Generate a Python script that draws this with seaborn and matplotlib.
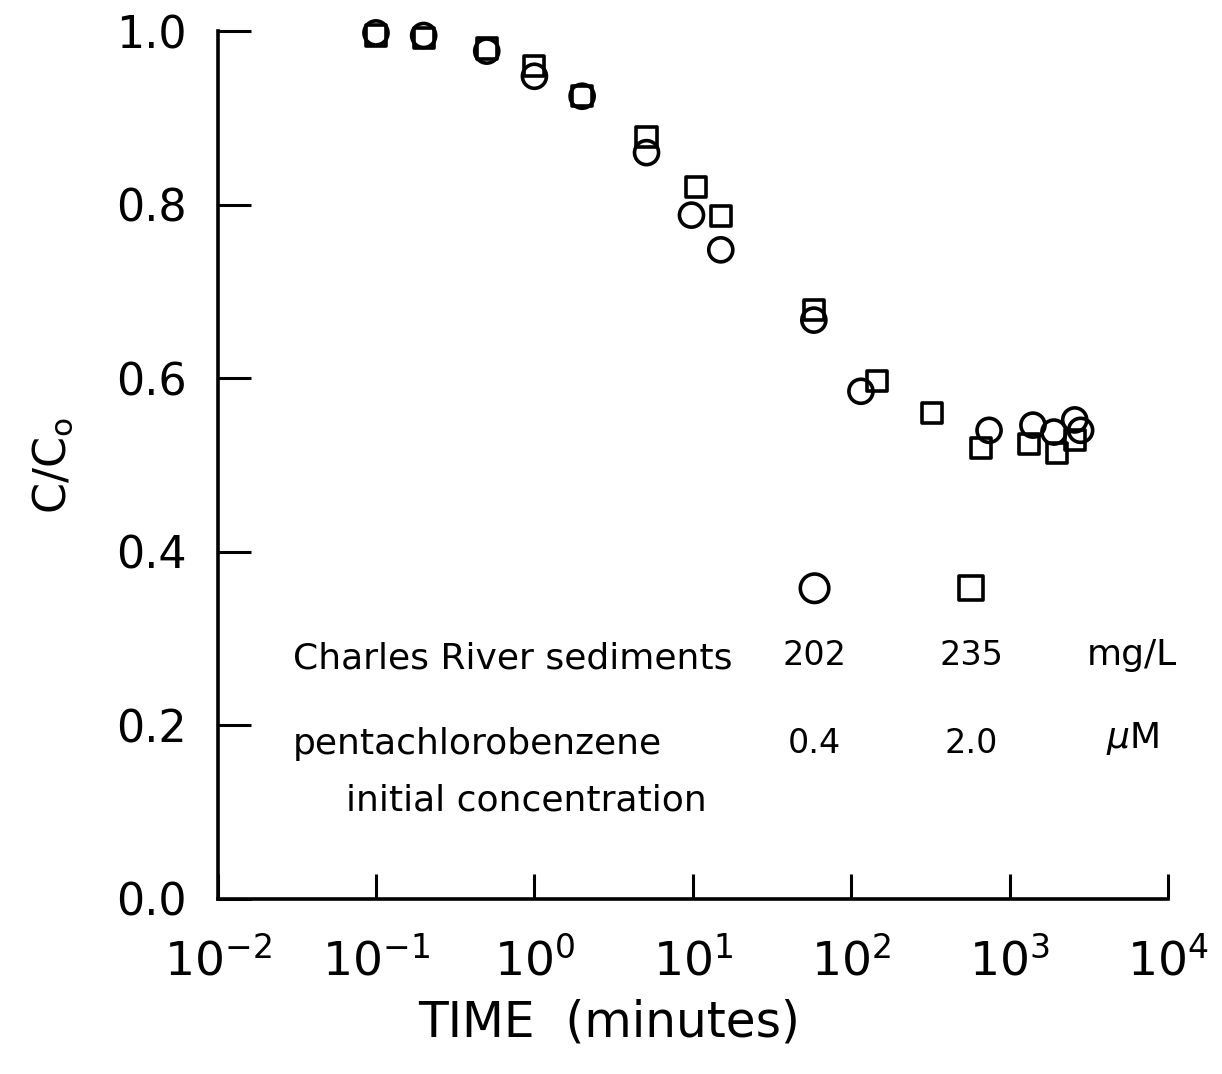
import numpy as np
import pandas as pd
import matplotlib
matplotlib.use("Agg")
import matplotlib.pyplot as plt
import seaborn as sns

# Sorption kinetics: fraction remaining in solution vs. time
time_202 = [0.1, 0.2, 0.5, 1.0, 2.0, 5.1, 9.8, 15, 58, 115, 740, 1400, 1900, 2570, 2800]
conc_202 = [0.998, 0.995, 0.977, 0.948, 0.925, 0.860, 0.788, 0.748, 0.667, 0.585, 0.540, 0.546, 0.538, 0.552, 0.540]

time_235 = [0.1, 0.2, 0.5, 1.0, 2.0, 5.1, 10.5, 15, 58, 146, 324, 660, 1320, 1990, 2580]
conc_235 = [0.995, 0.992, 0.980, 0.960, 0.925, 0.878, 0.820, 0.787, 0.679, 0.597, 0.560, 0.520, 0.524, 0.514, 0.529]

y_ticks = [0.0, 0.2, 0.4, 0.6, 0.8, 1.0]
y_tick_labels = ["0.0", "0.2", "0.4", "0.6", "0.8", "1.0"]
x_ticks = [1e-2, 1e-1, 1e0, 1e1, 1e2, 1e3, 1e4]
x_tick_labels = [r"$10^{-2}$", r"$10^{-1}$", r"$10^{0}$", r"$10^{1}$",
                 r"$10^{2}$", r"$10^{3}$", r"$10^{4}$"]

sediment_conc = ["202", "235"]
pcb_conc = ["0.4", "2.0"]

df = pd.concat([
    pd.DataFrame({"time": time_202, "conc": conc_202, "run": "202"}),
    pd.DataFrame({"time": time_235, "conc": conc_235, "run": "235"}),
])

sns.set_style("white")
plt.rcParams["font.family"] = ["DejaVu Sans"]
plt.rcParams["text.color"] = "black"
plt.rcParams["axes.labelcolor"] = "black"

fig = plt.figure(figsize=(12.22, 10.74), dpi=100)
ax = fig.add_axes([0.178, 0.163, 0.778, 0.808])

sns.scatterplot(data=df[df.run == "202"], x="time", y="conc", marker="o", s=300,
                facecolor="none", edgecolor="black", linewidth=2.6, ax=ax,
                clip_on=False, zorder=3)
sns.scatterplot(data=df[df.run == "235"], x="time", y="conc", marker="s", s=210,
                facecolor="none", edgecolor="black", linewidth=2.6, ax=ax,
                clip_on=False, zorder=3)

ax.set_xscale("log")
ax.set_xlim(1e-2, 1e4)
ax.set_ylim(0, 1.0)

ax.set_xticks(x_ticks)
ax.set_xticklabels(x_tick_labels, fontsize=34)
ax.xaxis.set_minor_locator(matplotlib.ticker.NullLocator())
ax.set_yticks(y_ticks)
ax.set_yticklabels(y_tick_labels, fontsize=32)

ax.tick_params(axis="both", which="major", direction="in", width=2.2,
               colors="black", bottom=True, left=True, top=False, right=False)
ax.tick_params(axis="x", pad=28, length=18)
ax.tick_params(axis="y", pad=22, length=24)

for side in ["top", "right"]:
    ax.spines[side].set_visible(False)
for side in ["left", "bottom"]:
    ax.spines[side].set_linewidth(2.6)
    ax.spines[side].set_color("black")

ax.set_xlabel("TIME  (minutes)", fontsize=35)
ax.xaxis.set_label_coords(0.412, -0.115)
ax.set_ylabel("C/C$_\\mathregular{o}$", fontsize=32, labelpad=30)

# Key: symbols and conditions for each run
kx = [0.628, 0.793]
ax.scatter([kx[0]], [0.358], marker="o", s=420, facecolor="none",
           edgecolor="black", linewidth=2.6, transform=ax.transAxes)
ax.scatter([kx[1]], [0.358], marker="s", s=300, facecolor="none",
           edgecolor="black", linewidth=2.6, transform=ax.transAxes)

fs = 26
ax.text(0.079, 0.277, "Charles River sediments", fontsize=fs, transform=ax.transAxes,
        va="center", ha="left")
ax.text(0.079, 0.179, "pentachlorobenzene", fontsize=fs, transform=ax.transAxes,
        va="center", ha="left")
ax.text(0.135, 0.113, "initial concentration", fontsize=fs, transform=ax.transAxes,
        va="center", ha="left")
for xk, s1, s2 in zip(kx, sediment_conc, pcb_conc):
    ax.text(xk, 0.281, s1, fontsize=fs - 2, transform=ax.transAxes, va="center", ha="center")
    ax.text(xk, 0.179, s2, fontsize=fs - 2, transform=ax.transAxes, va="center", ha="center")
ax.text(0.962, 0.281, "mg/L", fontsize=fs, transform=ax.transAxes, va="center", ha="center")
ax.text(0.962, 0.185, r"$\mu$M", fontsize=fs, transform=ax.transAxes, va="center", ha="center")

fig.savefig("out.png", dpi=100, facecolor="white")
